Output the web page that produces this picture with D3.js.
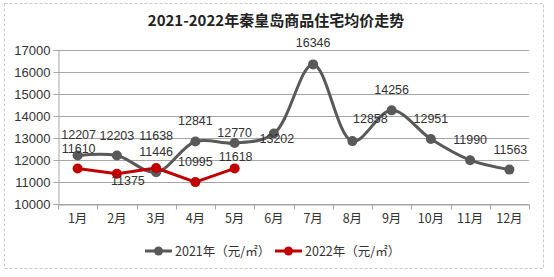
<!DOCTYPE html>
<html>
<head>
<meta charset="utf-8">
<script src="https://cdn.jsdelivr.net/npm/d3@7"></script>
<style>
  html, body { margin: 0; padding: 0; background: #fff; }
  svg { display: block; }
</style>
</head>
<body>
<svg id="chart" width="554" height="277"></svg>
<script>
const title = "2021-2022年秦皇岛商品住宅均价走势";
const months = ["1月","2月","3月","4月","5月","6月","7月","8月","9月","10月","11月","12月"];
const series2021 = [12207, 12203, 11446, 12841, 12770, 13202, 16346, 12858, 14256, 12951, 11990, 11563];
const series2022 = [11610, 11375, 11638, 10995, 11618];
const yTicks = [10000, 11000, 12000, 13000, 14000, 15000, 16000, 17000];
const seriesNames = ["2021年（元/㎡）", "2022年（元/㎡）"];
const colors = ["#595959", "#C00000"];

// label placement offsets (layout only)
const labelOffsets2021 = [[1,-16],[0,-16],[0,-16],[0,-16],[0,-6],[3,9],[0,-17],[18,-18],[0,-16],[0,-16],[0,-16],[1,-16]];
const labelOffsets2022 = [[1,-16],[11,11],[0,-28],[0,-16],[1,-7]];

const svg = d3.select("#chart");
const W = 554, H = 277;
const margin = {left: 58, right: 25, top: 50, bottom: 73};
const x = d3.scaleBand().domain(months).range([margin.left, W - margin.right]);
const y = d3.scaleLinear().domain([10000, 17000]).range([H - margin.bottom, margin.top]);
const numFont = "'Liberation Sans', Arial, sans-serif";
const cjkFont = "'Noto Sans CJK SC', 'Liberation Sans', sans-serif";

// border
svg.append("rect").attr("x", 4.5).attr("y", 3.5).attr("width", 539).attr("height", 265)
  .attr("fill", "none").attr("stroke", "#c8c8c8").attr("stroke-dasharray", "3,2").attr("stroke-width", 1);

// title
svg.append("text").attr("x", 276).attr("y", 26).attr("text-anchor", "middle")
  .attr("font-family", cjkFont).attr("font-weight", "bold").attr("font-size", 15)
  .attr("fill", "#222").text(title);

// gridlines
svg.append("g").selectAll("line").data(yTicks).join("line")
  .attr("x1", margin.left).attr("x2", W - margin.right)
  .attr("y1", d => Math.round(y(d)) + 0.5).attr("y2", d => Math.round(y(d)) + 0.5)
  .attr("stroke", "#a6a6a6").attr("stroke-width", 1);

// y axis
const yAxis = d3.axisLeft(y).tickValues(yTicks).tickSize(5).tickPadding(3).tickFormat(d3.format("d"));
const gy = svg.append("g").attr("transform", `translate(${margin.left + 0.5},0)`).call(yAxis);
gy.select(".domain").attr("stroke", "#a6a6a6");
gy.selectAll(".tick line").attr("stroke", "#a6a6a6");
gy.selectAll(".tick text").attr("font-family", numFont).attr("font-size", 13).attr("fill", "#333");

// x axis
const xAxis = d3.axisBottom(x).tickSize(0).tickPadding(10);
const gx = svg.append("g").attr("transform", `translate(0,${Math.round(y(10000)) + 0.5})`).call(xAxis);
gx.select(".domain").attr("stroke", "#a6a6a6");
gx.selectAll(".tick text").attr("font-family", cjkFont).attr("font-size", 12.5).attr("fill", "#333");
// category boundary ticks
const bounds = months.map(m => x(m)).concat([x.range()[1]]);
gx.append("g").selectAll("line").data(bounds).join("line")
  .attr("x1", d => Math.round(d) + 0.5).attr("x2", d => Math.round(d) + 0.5)
  .attr("y1", 0).attr("y2", 5).attr("stroke", "#a6a6a6");

const cx = (d, i) => x(months[i]) + x.bandwidth() / 2;

function drawSeries(data, color, curve) {
  const line = d3.line().x((d, i) => cx(d, i)).y(d => y(d)).curve(curve);
  svg.append("path").datum(data).attr("d", line).attr("fill", "none")
    .attr("stroke", color).attr("stroke-width", 3).attr("stroke-linejoin", "round");
  svg.append("g").selectAll("circle").data(data).join("circle")
    .attr("cx", (d, i) => cx(d, i)).attr("cy", d => y(d)).attr("r", 5).attr("fill", color);
}
drawSeries(series2021, colors[0], d3.curveCatmullRom.alpha(0.5));
drawSeries(series2022, colors[1], d3.curveLinear);

function drawLabels(data, offsets) {
  svg.append("g").selectAll("text").data(data).join("text")
    .attr("x", (d, i) => cx(d, i) + offsets[i][0])
    .attr("y", (d, i) => y(d) + offsets[i][1])
    .attr("text-anchor", "middle").attr("font-family", numFont).attr("font-size", 12.5)
    .attr("fill", "#333").text(d => d);
}
drawLabels(series2021, labelOffsets2021);
drawLabels(series2022, labelOffsets2022);

// legend
const legend = svg.append("g").attr("transform", "translate(145,251)");
const items = [{name: seriesNames[0], color: colors[0], x0: 0}, {name: seriesNames[1], color: colors[1], x0: 130}];
items.forEach(it => {
  const g = legend.append("g").attr("transform", `translate(${it.x0},0)`);
  g.append("line").attr("x1", 0).attr("x2", 27).attr("y1", 0).attr("y2", 0)
    .attr("stroke", it.color).attr("stroke-width", 3);
  g.append("circle").attr("cx", 13.5).attr("cy", 0).attr("r", 4.5).attr("fill", it.color);
  g.append("text").attr("x", 30).attr("y", 4.5).attr("font-family", cjkFont).attr("font-size", 12.5)
    .attr("fill", "#333").text(it.name);
});
</script>
</body>
</html>
